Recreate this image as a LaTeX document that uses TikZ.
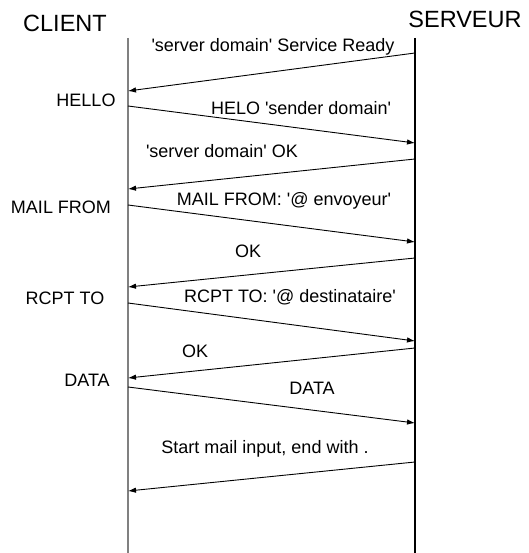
\documentclass[tikz,border=0pt]{standalone}
\usepackage{fontspec}
\setmainfont{Liberation Sans}
\usetikzlibrary{arrows.meta}
\newcommand{\straightq}{\textquotesingle}

\begin{document}
\begin{tikzpicture}[
    x=1pt, y=-1pt,
    actor/.style={font=\fontsize{23.5}{26}\selectfont, inner sep=0pt, anchor=base},
    msglabel/.style={font=\fontsize{18}{20}\selectfont, inner sep=0pt, anchor=base},
    cmd/.style={font=\fontsize{18}{20}\selectfont, inner sep=0pt, anchor=base},
    msg/.style={-{Latex[length=8pt,width=5.5pt]}, line width=0.9pt, black},
    clientline/.style={line width=1.6pt, black!50},
    serverline/.style={line width=1.1pt, black}
]
\useasboundingbox (0,0) rectangle (528,553);

% Actors
\node[actor] (client) at (65,32) {CLIENT};
\node[actor] (serveur) at (465,28) {SERVEUR};

% Lifelines
\coordinate (ctop) at (128,38);
\coordinate (cbot) at (128,553);
\coordinate (stop) at (415,38);
\coordinate (sbot) at (415,553);
\draw[clientline] (ctop) -- (cbot);
\draw[serverline] (stop) -- (sbot);

% Message end points (s = serveur side, c = client side)
\coordinate (s1) at (415,53);  \coordinate (c1) at (128,91);
\coordinate (c2) at (128,106); \coordinate (s2) at (415,143);
\coordinate (s3) at (415,159); \coordinate (c3) at (128,189);
\coordinate (c4) at (128,205); \coordinate (s4) at (415,242);
\coordinate (s5) at (415,258); \coordinate (c5) at (128,287);
\coordinate (c6) at (128,303); \coordinate (s6) at (415,341);
\coordinate (s7) at (415,348); \coordinate (c7) at (128,378);
\coordinate (c8) at (128,387); \coordinate (s8) at (415,423);
\coordinate (s9) at (415,462); \coordinate (c9) at (128,491);

% Messages
\draw[msg] (s1) -- (c1);
\draw[msg] (c2) -- (s2);
\draw[msg] (s3) -- (c3);
\draw[msg] (c4) -- (s4);
\draw[msg] (s5) -- (c5);
\draw[msg] (c6) -- (s6);
\draw[msg] (s7) -- (c7);
\draw[msg] (c8) -- (s8);
\draw[msg] (s9) -- (c9);

% Message labels
\node[msglabel] (m1) at (273,52) {\straightq server domain\straightq{} Service Ready};
\node[msglabel] (m2) at (301,115) {HELO \straightq sender domain\straightq};
\node[msglabel] (m3) at (222,158) {\straightq server domain\straightq{} OK};
\node[msglabel] (m4) at (284,205) {MAIL FROM: \straightq @ envoyeur\straightq};
\node[msglabel] (m5) at (248,257) {OK};
\node[msglabel] (m6) at (290,302) {RCPT TO: \straightq @ destinataire\straightq};
\node[msglabel] (m7) at (195,357) {OK};
\node[msglabel] (m8) at (312,394) {DATA};
\node[msglabel] (m9) at (265,453) {Start mail input, end with .};

% Client commands
\node[cmd] (hello) at (86,107) {HELLO};
\node[cmd] (mailfrom) at (61,213) {MAIL FROM};
\node[cmd] (rcptto) at (65,304) {RCPT TO};
\node[cmd] (data) at (87,386) {DATA};

\end{tikzpicture}
\end{document}
